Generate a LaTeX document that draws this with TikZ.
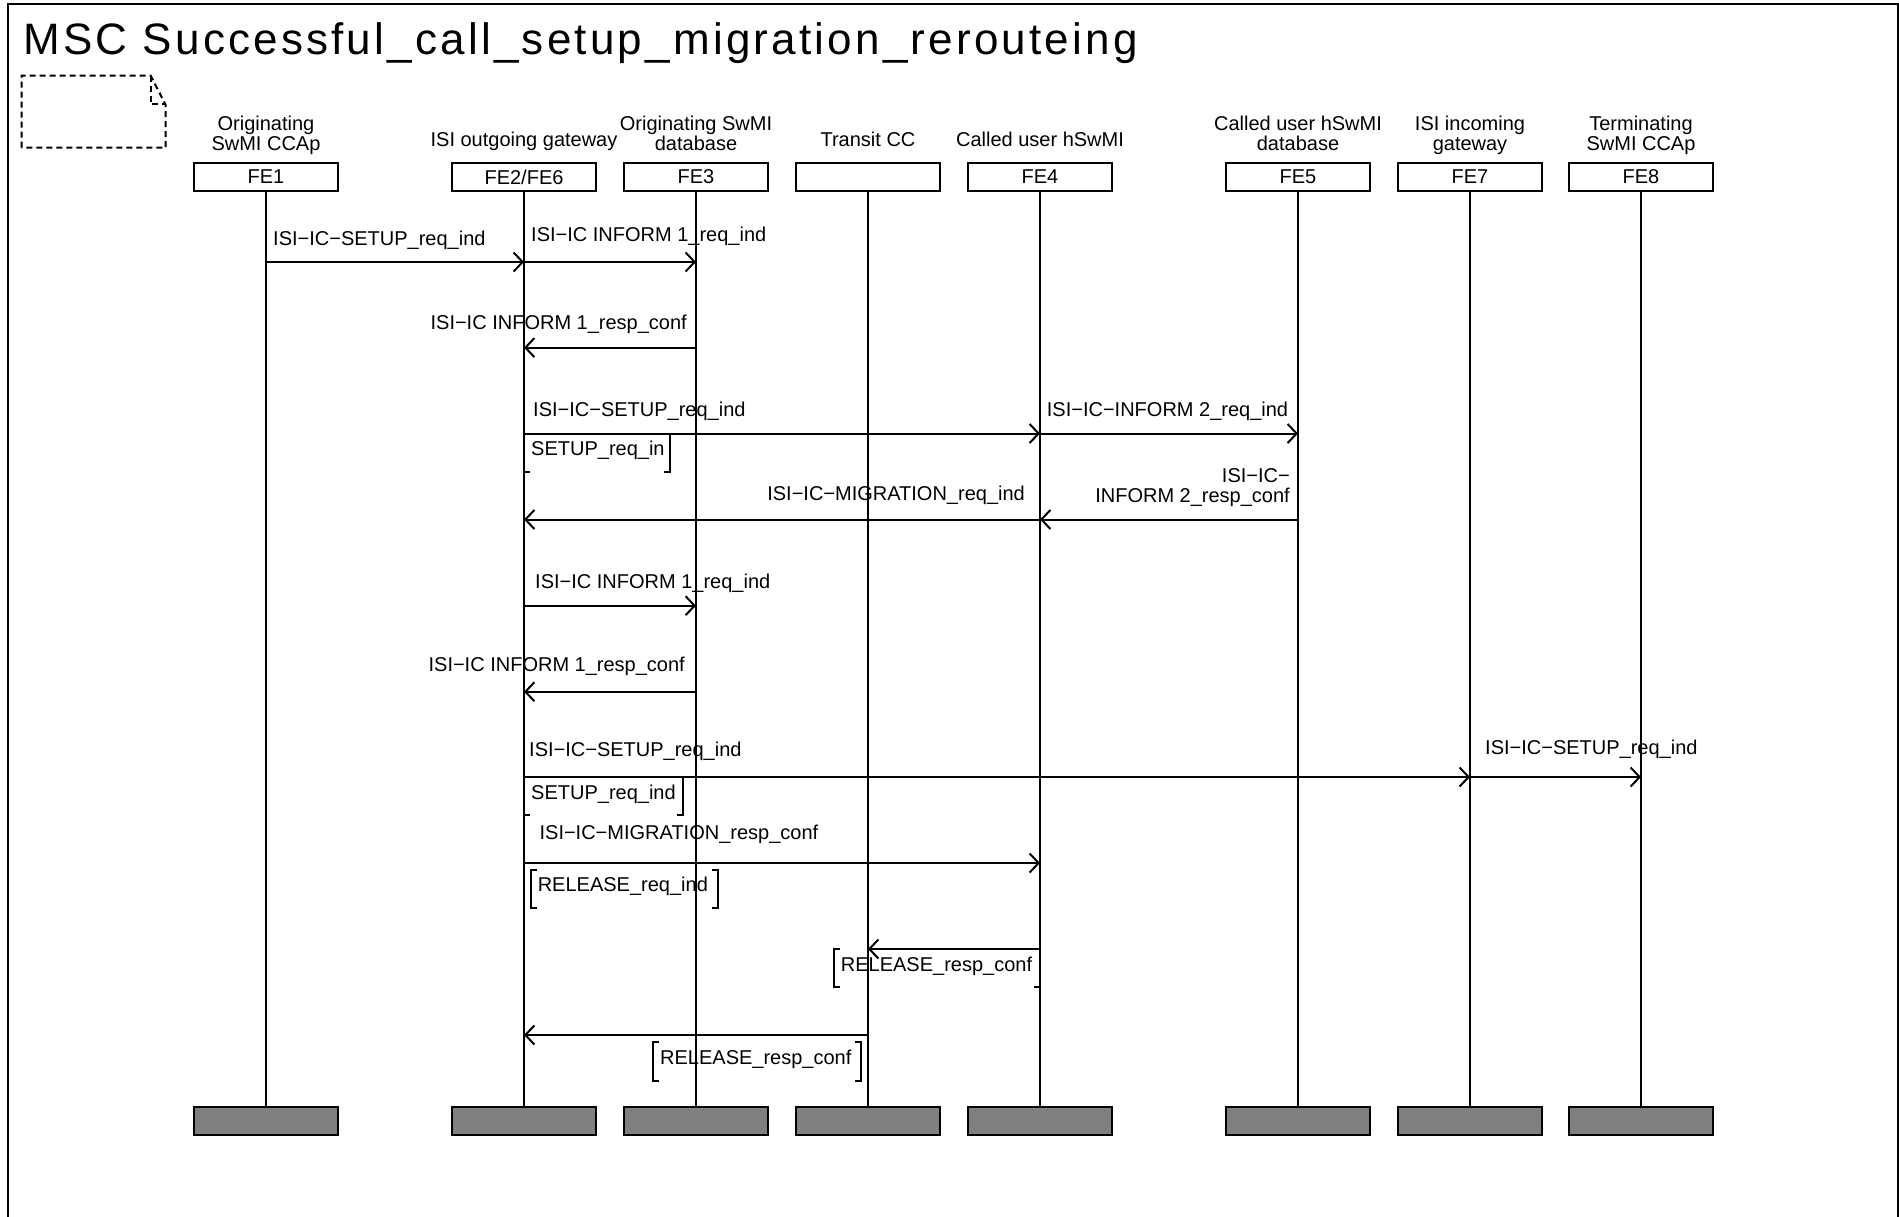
\documentclass[tikz,border=0pt]{standalone}
\usepackage{fontspec}
\setmainfont{Liberation Sans}
\newfontfamily\titlefont[LetterSpace=7.3]{Liberation Sans}
\usetikzlibrary{arrows.meta}

% square brackets drawn round an action box
\newcommand\actbrackets[1]{%
  \draw[brk] ([xshift=6pt]#1.north west) -- (#1.north west) -- (#1.south west) -- ([xshift=6pt]#1.south west);
  \draw[brk] ([xshift=-6pt]#1.north east) -- (#1.north east) -- (#1.south east) -- ([xshift=-6pt]#1.south east);}

\begin{document}
\begin{tikzpicture}[x=1pt,y=-1pt,
  every node/.style={font=\fontsize{20}{20}\selectfont, inner sep=0pt},
  headbox/.style={draw, line width=2pt, minimum width=144pt, minimum height=28pt, anchor=north},
  endbox/.style={draw, fill=black!50, line width=2pt, minimum width=144pt, minimum height=28pt, anchor=north},
  life/.style={line width=2pt},
  msg/.style={line width=2pt, -{Straight Barb[length=9pt,width=19pt]}},
  lbl/.style={anchor=base west},
  lblr/.style={anchor=base east},
  hdr/.style={align=center, anchor=base},
  actnode/.style={anchor=north west, minimum height=38pt, inner xsep=7pt, inner ysep=0pt, text height=13pt, text depth=7pt},
  brk/.style={line width=2pt},
  note/.style={line width=2pt, dash pattern=on 6pt off 4pt},
]
\useasboundingbox (0,0) rectangle (1899,1217);
\fill[white] (0,0) rectangle (1899,1217);

% frame and title
\draw[line width=2pt] (8.3,1217) -- (8.3,4.5) -- (1897.5,4.5) -- (1897.5,1217);
\node[anchor=base west, font=\titlefont\fontsize{44}{44}\selectfont] (title) at (23,55)
  {MSC Successful\_call\_setup\_migration\_rerouteing};

% empty comment symbol
\draw[note] (21.7,147.7) -- (21.7,75.7) -- (150.7,75.7) -- (165.7,105) -- (165.7,147.7) -- cycle;
\draw[note] (150.7,75.7) -- (150.7,104.3) -- (165.7,104.3);

% instance heads
\node[headbox] (h1) at (266,162) {FE1};
\node[headbox] (h2) at (524,162) {FE2/FE6};
\node[headbox] (h3) at (696,162) {FE3};
\node[headbox] (hc) at (868,162) {};
\node[headbox] (h4) at (1040,162) {FE4};
\node[headbox] (h5) at (1298,162) {FE5};
\node[headbox] (h7) at (1470,162) {FE7};
\node[headbox] (h8) at (1641,162) {FE8};

% instance names (base anchor = baseline of the last line)
\node[hdr] (t1) at (266,150.5) {Originating\\SwMI CCAp};
\node[hdr] (t2) at (524,147) {ISI outgoing gateway};
\node[hdr] (t3) at (696,150.5) {Originating SwMI\\database};
\node[hdr] (tc) at (868,147) {Transit CC};
\node[hdr] (t4) at (1040,147) {Called user hSwMI};
\node[hdr] (t5) at (1298,150.5) {Called user hSwMI\\database};
\node[hdr] (t7) at (1470,150.5) {ISI incoming\\gateway};
\node[hdr] (t8) at (1641,150.5) {Terminating\\SwMI CCAp};

% instance ends
\node[endbox] (e1) at (266,1106) {};
\node[endbox] (e2) at (524,1106) {};
\node[endbox] (e3) at (696,1106) {};
\node[endbox] (ec) at (868,1106) {};
\node[endbox] (e4) at (1040,1106) {};
\node[endbox] (e5) at (1298,1106) {};
\node[endbox] (e7) at (1470,1106) {};
\node[endbox] (e8) at (1641,1106) {};

% lifelines
\foreach \i in {1,2,3,c,4,5,7,8} \draw[life] (h\i) -- (e\i);

% messages
\draw[msg] (h1 |- 0,262) -- (h2 |- 0,262);
\node[lbl] (l1) at (273,245.5) {ISI−IC−SETUP\_req\_ind};
\draw[msg] (h2 |- 0,262) -- (h3 |- 0,262);
\node[lbl] (l2) at (531,241.5) {ISI−IC INFORM 1\_req\_ind};

\draw[msg] (h3 |- 0,347.6) -- (h2 |- 0,347.6);
\node[lblr] (l3) at (687,329.5) {ISI−IC INFORM 1\_resp\_conf};

\draw[msg] (h2 |- 0,433.5) -- (h4 |- 0,433.5);
\node[lbl] (l4) at (533,416) {ISI−IC−SETUP\_req\_ind};
\draw[msg] (h4 |- 0,433.5) -- (h5 |- 0,433.5);
\node[lbl] (l5) at (1046.7,416.5) {ISI−IC−INFORM 2\_req\_ind};

\node[actnode] (a1) at (524,433.5) {\makebox[131.5pt][l]{SETUP\_req\_in}};
\actbrackets{a1}

\draw[msg] (h5 |- 0,519.5) -- (h4 |- 0,519.5);
\node[lblr, align=right] (l6) at (1290,502.7) {ISI−IC−\\INFORM 2\_resp\_conf};
\draw[msg] (h4 |- 0,519.5) -- (h2 |- 0,519.5);
\node[lblr] (l7) at (1025,500) {ISI−IC−MIGRATION\_req\_ind};

\draw[msg] (h2 |- 0,605.7) -- (h3 |- 0,605.7);
\node[lbl] (l8) at (535,588.3) {ISI−IC INFORM 1\_req\_ind};

\draw[msg] (h3 |- 0,691.7) -- (h2 |- 0,691.7);
\node[lblr] (l9) at (685,671) {ISI−IC INFORM 1\_resp\_conf};

\draw[msg] (h2 |- 0,777) -- (h7 |- 0,777);
\node[lbl] (l10) at (529,756) {ISI−IC−SETUP\_req\_ind};
\draw[msg] (h7 |- 0,777) -- (h8 |- 0,777);
\node[lbl] (l11) at (1485,754.5) {ISI−IC−SETUP\_req\_ind};

\node[actnode] (a2) at (524,777) {\makebox[145pt][l]{SETUP\_req\_ind}};
\actbrackets{a2}

\draw[msg] (h2 |- 0,863) -- (h4 |- 0,863);
\node[lbl] (l12) at (539.4,839.3) {ISI−IC−MIGRATION\_resp\_conf};

\node[actnode] (a3) at (530.6,869.5) {\makebox[172.8pt][l]{RELEASE\_req\_ind}};
\actbrackets{a3}

\draw[msg] (h4 |- 0,949) -- (hc |- 0,949);
\node[actnode] (a4) at (833.7,949) {\makebox[192pt][l]{RELEASE\_resp\_conf}};
\actbrackets{a4}

\draw[msg] (hc |- 0,1035) -- (h2 |- 0,1035);
\node[actnode] (a5) at (653,1042.3) {\makebox[193.5pt][l]{RELEASE\_resp\_conf}};
\actbrackets{a5}
\end{tikzpicture}
\end{document}
